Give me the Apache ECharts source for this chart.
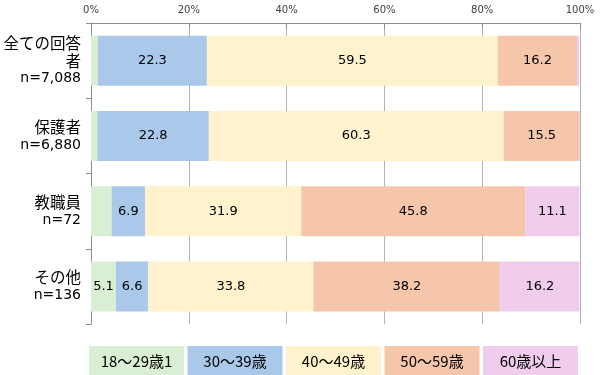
<!DOCTYPE html>
<html><head><meta charset="utf-8">
<script src="https://cdn.jsdelivr.net/npm/echarts@6/dist/echarts.min.js"></script>
<style>html,body{margin:0;padding:0;background:#fff}#c{width:600px;height:375px}</style>
</head><body><div id="c"></div>
<script>
const categories = ['全ての回答\n者\nn=7,088', '保護者\nn=6,880', '教職員\nn=72', 'その他\nn=136'];
const seriesNames = ['18～29歳1', '30～39歳', '40～49歳', '50～59歳', '60歳以上'];
const age18_29 = [1.4, 1.3, 4.2, 5.1];
const age30_39 = [22.3, 22.8, 6.9, 6.6];
const age40_49 = [59.5, 60.3, 31.9, 33.8];
const age50_59 = [16.2, 15.5, 45.8, 38.2];
const age60plus = [0.4, 0.3, 11.1, 16.2];
const showLabel18_29 = [false, false, false, true];
const showLabel60plus = [false, false, true, true];
const xTicks = [0, 20, 40, 60, 80, 100];

const colors = ['#d9eed3', '#a9c8ea', '#fff2cc', '#f6c6ab', '#f0cdec'];
const allValues = [age18_29, age30_39, age40_49, age50_59, age60plus];
const showFlags = [showLabel18_29, [true,true,true,true], [true,true,true,true], [true,true,true,true], showLabel60plus];

const chart = echarts.init(document.getElementById('c'), null, {renderer: 'canvas'});
const cjk = '"Noto Sans CJK JP", sans-serif';
const latin = '"DejaVu Sans", "Noto Sans CJK JP", sans-serif';
const rich = {};
colors.forEach((c, i) => {
  rich['s' + i] = {backgroundColor: c, width: 95, height: 30, lineHeight: 30, align: 'center', fontSize: 15, color: '#000', fontFamily: cjk};
});
chart.setOption({
  animation: false,
  textStyle: {fontFamily: latin},
  grid: {left: 91, right: 20, top: 23, bottom: 51, containLabel: false},
  xAxis: {
    type: 'value', position: 'top', min: xTicks[0], max: xTicks[xTicks.length-1], interval: 20,
    axisLine: {show: true, lineStyle: {color: '#8c8c8c'}},
    axisTick: {show: true, inside: true, length: 6, lineStyle: {color: '#8c8c8c'}},
    splitLine: {show: true, lineStyle: {color: '#b4b4b4'}},
    axisLabel: {formatter: '{value}%', fontSize: 10, color: '#404040', margin: 8, fontFamily: '"DejaVu Sans", sans-serif'}
  },
  yAxis: {
    type: 'category', inverse: true, data: categories,
    axisLine: {show: true, lineStyle: {color: '#8c8c8c'}},
    axisTick: {show: true, length: 5, lineStyle: {color: '#8c8c8c'}},
    axisLabel: {
      margin: 10, align: 'right',
      formatter: v => v.split('\n').map(l => (l.startsWith('n=') ? '{n|' : '{c|') + l + '}').join('\n'),
      rich: {
        c: {fontSize: 15.5, lineHeight: 18, color: '#000', fontFamily: cjk, align: 'right'},
        n: {fontSize: 14, lineHeight: 18, color: '#000', fontFamily: latin, align: 'right'}
      }
    }
  },
  legend: {
    left: 79, top: 341, width: 540, itemWidth: 0, itemHeight: 0, itemGap: -1.5,
    selectedMode: false,
    formatter: name => '{s' + seriesNames.indexOf(name) + '|' + name + '}',
    textStyle: {rich: rich},
    data: seriesNames.map(n => ({name: n, icon: 'rect'}))
  },
  series: seriesNames.map((n, i) => ({
    name: n, type: 'bar', stack: 'total', barWidth: 50,
    itemStyle: {color: colors[i]},
    label: {show: true, position: 'inside', fontSize: 13, color: '#000', fontFamily: '"DejaVu Sans", sans-serif', formatter: p => p.value.toFixed(1)},
    data: allValues[i].map((v, j) => ({value: v, label: {show: showFlags[i][j]}}))
  }))
});
</script></body></html>
